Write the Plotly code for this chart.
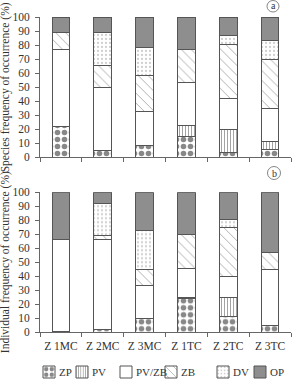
import plotly.graph_objects as go

categories = ["Z 1MC", "Z 2MC", "Z 3MC", "Z 1TC", "Z 2TC", "Z 3TC"]
series_names = ["ZP", "PV", "PV/ZB", "ZB", "DV", "OP"]

# Panel a: species frequency of occurrence (%)
species_zp = [22, 5, 8.5, 15, 3.3, 5.7]
species_pv = [0, 0, 0, 8, 16.2, 5.3]
species_pvzb = [55, 45, 24.5, 30.6, 22.2, 24]
species_zb = [11.6, 15.2, 25, 23.1, 39, 35]
species_dv = [0, 23.8, 20.3, 0, 6, 13.3]
species_op = [11.4, 11, 21.7, 23.3, 13.3, 16.7]

# Panel b: individual frequency of occurrence (%)
indiv_zp = [0.5, 1.5, 10, 24, 10.8, 4.8]
indiv_pv = [0, 0, 0, 1, 14.2, 0]
indiv_pvzb = [66, 64.8, 23.5, 20.5, 15, 39.9]
indiv_zb = [0, 2.5, 11.5, 24.5, 34.6, 12.3]
indiv_dv = [0, 23.2, 27.5, 0, 6, 0]
indiv_op = [33.5, 8, 27.5, 30, 19.4, 43]

y_ticks = [0, 10, 20, 30, 40, 50, 60, 70, 80, 90, 100]

styles = {
    "ZP": dict(color="white", pattern=dict(shape=".", fgcolor="#111111", size=7, solidity=0.5)),
    "PV": dict(color="white", pattern=dict(shape="|", fgcolor="#333333", size=3, solidity=0.3)),
    "PV/ZB": dict(color="white"),
    "ZB": dict(color="white", pattern=dict(shape="\\", fgcolor="#444444", size=7, solidity=0.12)),
    "DV": dict(color="white", pattern=dict(shape=".", fgcolor="#a0a0a0", size=4, solidity=0.25)),
    "OP": dict(color="#8e8e8e"),
}

# legend label starts (pixels)
legend_text_start = [57, 90, 134, 179, 231, 268]

FONT = "Liberation Serif"
TXT = "#333333"
AX = "#666666"

fig = go.Figure()
panel_a = [species_zp, species_pv, species_pvzb, species_zb, species_dv, species_op]
panel_b = [indiv_zp, indiv_pv, indiv_pvzb, indiv_zb, indiv_dv, indiv_op]

legend_keys = ["legend", "legend2", "legend3", "legend4", "legend5", "legend6"]

for i, name in enumerate(series_names):
    st = styles[name]
    marker = dict(color=st["color"], line=dict(color="#555555", width=1))
    if "pattern" in st:
        marker["pattern"] = st["pattern"]
    fig.add_trace(go.Bar(x=categories, y=panel_a[i], name=name, marker=marker,
                         width=0.42, xaxis="x", yaxis="y", showlegend=False, legendgroup=name))
    fig.add_trace(go.Bar(x=categories, y=panel_b[i], name=name, marker=marker,
                         width=0.42, xaxis="x2", yaxis="y2", showlegend=False, legendgroup=name))
    # legend swatch only (label drawn as annotation for tight spacing)
    fig.add_trace(go.Bar(x=[None], y=[None], name=" ", marker=marker, xaxis="x", yaxis="y",
                         showlegend=True, legend=legend_keys[i], legendgroup=name,
                         hoverinfo="skip"))

H_PLOT = 315.0
def py(pix):
    return (332.0 - pix) / H_PLOT

def px(pix):
    return (pix - 40.0) / 251.0

axis_common = dict(showline=True, linecolor=AX, linewidth=1, ticks="outside",
                   ticklen=4, tickcolor=AX, showgrid=False, zeroline=False,
                   tickfont=dict(family=FONT, size=11.5, color=TXT))

annotations = [
    dict(text="Species frequency of occurrence (%)", textangle=-90, xref="paper", yref="paper",
         x=px(5), y=(py(17.3) + py(157.3)) / 2, showarrow=False, xanchor="center", yanchor="middle",
         font=dict(family=FONT, size=11.5, color=TXT)),
    dict(text="Individual frequency of occurrence (%)", textangle=-90, xref="paper", yref="paper",
         x=px(5), y=(py(192.3) + py(332)) / 2, showarrow=False, xanchor="center", yanchor="middle",
         font=dict(family=FONT, size=11.5, color=TXT)),
    dict(text="a", xref="paper", yref="paper", x=px(273), y=py(6), showarrow=False,
         xanchor="center", yanchor="middle", font=dict(family=FONT, size=10, color=TXT)),
    dict(text="b", xref="paper", yref="paper", x=px(274), y=py(173), showarrow=False,
         xanchor="center", yanchor="middle", font=dict(family=FONT, size=10, color=TXT)),
]
for i, name in enumerate(series_names):
    annotations.append(dict(text=name, xref="paper", yref="paper", x=px(legend_text_start[i]),
                            y=py(372), showarrow=False, xanchor="left", yanchor="middle",
                            font=dict(family=FONT, size=11, color=TXT)))

layout = dict(
    width=294, height=381,
    margin=dict(l=40, r=3, t=17, b=49, autoexpand=False),
    paper_bgcolor="white", plot_bgcolor="white",
    barmode="stack", bargap=0.58,
    xaxis=dict(domain=[0, 1], anchor="y", type="category", tickson="boundaries",
               showticklabels=False, **axis_common),
    yaxis=dict(domain=[py(157.3), 1], anchor="x", range=[0, 100], tickvals=y_ticks,
               ticklabelstandoff=3, **axis_common),
    xaxis2=dict(domain=[0, 1], anchor="y2", type="category", tickson="boundaries",
                tickangle=0, ticklabelstandoff=3, **axis_common),
    yaxis2=dict(domain=[0, py(192.3)], anchor="x2", range=[0, 100], tickvals=y_ticks,
                ticklabelstandoff=3, **axis_common),
    annotations=annotations,
    shapes=[
        dict(type="circle", xref="paper", yref="paper", x0=px(267), x1=px(279), y0=py(12), y1=py(0.5),
             line=dict(color=AX, width=0.8)),
        dict(type="circle", xref="paper", yref="paper", x0=px(267.5), x1=px(280.5), y0=py(179.5), y1=py(166.5),
             line=dict(color=AX, width=0.8)),
    ],
)

for i, key in enumerate(legend_keys):
    layout[key] = dict(orientation="h", x=px(legend_text_start[i] - 8 - 20), xanchor="left",
                       y=py(372), yanchor="middle", bgcolor="rgba(0,0,0,0)",
                       font=dict(family=FONT, size=6, color=TXT))

fig.update_layout(**layout)
fig.write_html("out.html")
